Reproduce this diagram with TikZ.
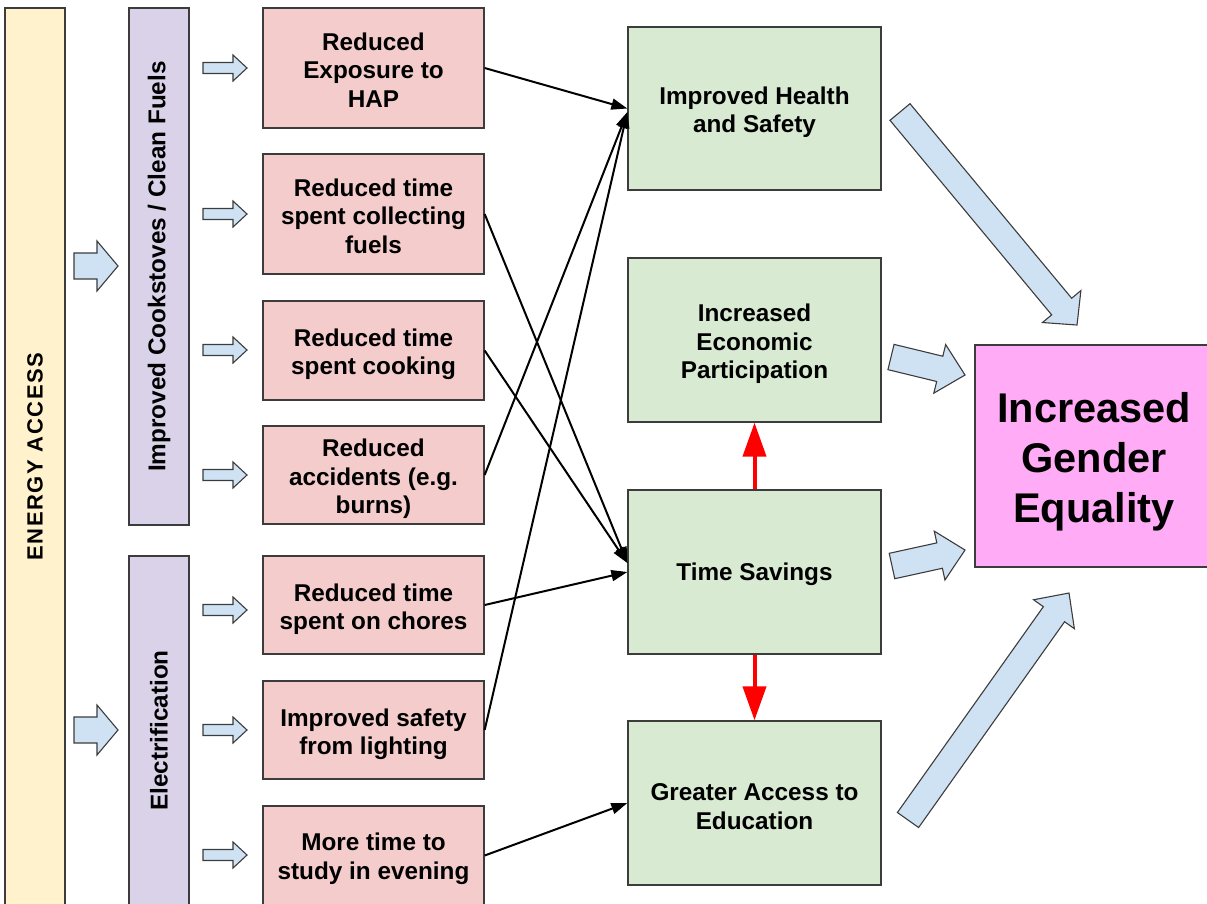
\documentclass[tikz,border=0pt]{standalone}
\usepackage{fontspec}
\setmainfont{Liberation Sans}
\usetikzlibrary{calc,arrows.meta}

\definecolor{edge}{HTML}{3C3C3C}
\definecolor{accessfill}{HTML}{FFF2CC}
\definecolor{techfill}{HTML}{D9D2E9}
\definecolor{effectfill}{HTML}{F4CCCC}
\definecolor{outcomefill}{HTML}{D9EAD3}
\definecolor{goalfill}{HTML}{FFABF6}
\definecolor{flowfill}{HTML}{CFE2F3}

% invisible strut that sets the height of a node's first line
\newcommand{\topline}[1]{\rule{0pt}{#1}}

% Block arrow from #1 to tip #2: half shaft width #3, half head width #4, head length #5
\newcommand{\fatarrow}[5]{%
  \path ($(#2)!#5!(#1)$) coordinate (fa-base);
  \draw[flow] ($(#1)!#3!90:(#2)$) -- ($(fa-base)!#3!90:(#2)$)
    -- ($(fa-base)!#4!90:(#2)$) -- (#2) -- ($(fa-base)!#4!-90:(#2)$)
    -- ($(fa-base)!#3!-90:(#2)$) -- ($(#1)!#3!-90:(#2)$) -- cycle;
}

\begin{document}
\begin{tikzpicture}[x=1pt,y=-1pt,
  box/.style={draw=edge, line width=1.3pt, inner sep=0pt, align=center,
    font=\bfseries\fontsize{24.3}{28.5}\selectfont},
  access/.style={box, fill=accessfill, rotate=90, minimum height=60pt,
    font=\bfseries\fontsize{22}{26}\selectfont\addfontfeature{LetterSpace=7}},
  tech/.style={box, fill=techfill, rotate=90, minimum height=60pt},
  effect/.style={box, fill=effectfill, minimum width=221pt},
  outcome/.style={box, fill=outcomefill, minimum width=253pt, minimum height=164pt},
  goal/.style={box, fill=goalfill, font=\bfseries\fontsize{41.5}{50}\selectfont},
  flow/.style={draw=edge, line width=1.1pt, fill=flowfill, line join=miter},
  link/.style={draw=black, line width=2pt, -{Triangle[length=16pt,width=11pt]}},
  feedback/.style={draw=red, line width=4pt, -{Triangle[length=34pt,width=23pt]}}
]
\path[use as bounding box, clip] (0,0) rectangle (1207,903);

% left-hand columns
\node[access, minimum width=897pt] (access) at (35,456.5) {ENERGY ACCESS};
\node[tech, minimum width=517pt] (cook) at (159,266.5) {Improved Cookstoves / Clean Fuels};
\node[tech, minimum width=349pt] (elec) at (159,730.5) {Electrification};

% direct effects
\node[effect, minimum height=120pt] (r1) at (373.5,68) {\topline{21pt}Reduced\\Exposure to\\HAP};
\node[effect, minimum height=120pt] (r2) at (373.5,214) {\topline{22pt}Reduced time\\spent collecting\\fuels};
\node[effect, minimum height=99pt] (r3) at (373.5,350.5) {\topline{25pt}Reduced time\\spent cooking};
\node[effect, minimum height=98pt] (r4) at (373.5,475) {\topline{25.5pt}Reduced\\accidents (e.g.\\burns)};
\node[effect, minimum height=98pt] (r5) at (373.5,605) {\topline{26pt}Reduced time\\spent on chores};
\node[effect, minimum height=98pt] (r6) at (373.5,730) {\topline{26pt}Improved safety\\from lighting};
\node[effect, minimum height=99pt] (r7) at (373.5,855.5) {\topline{24pt}More time to\\study in evening};

% outcomes
\node[outcome, minimum height=163pt] (health) at (754.5,108.5) {\topline{25.5pt}Improved Health\\and Safety};
\node[outcome] (econ) at (754.5,340) {\topline{25.5pt}Increased\\Economic\\Participation};
\node[outcome] (time) at (754.5,572) {\topline{22pt}Time Savings};
\node[outcome] (edu) at (754.5,803) {\topline{24pt}Greater Access to\\Education};

% final goal
\node[goal, minimum width=238pt, minimum height=222pt] (goal) at (1094,456) {\topline{42pt}Increased\\Gender\\Equality};

% block arrows into the technology columns
\coordinate (a1) at (74,266);  \coordinate (a1t) at (118,266);
\coordinate (a2) at (74,730);  \coordinate (a2t) at (118,730);
\fatarrow{a1}{a1t}{13pt}{25pt}{21pt}
\fatarrow{a2}{a2t}{13pt}{25pt}{21pt}

% small block arrows into the effect boxes
\foreach \y [count=\i] in {68,214,350,475,610,730,855}{
  \coordinate (s\i) at (203,\y);
  \coordinate (s\i t) at (247,\y);
  \fatarrow{s\i}{s\i t}{5.5pt}{13pt}{14pt}
}

% block arrows into the goal
\coordinate (b1) at (900,112);  \coordinate (b1t) at (1077,325);
\coordinate (b2) at (891,357);  \coordinate (b2t) at (965,375);
\coordinate (b3) at (892,566);  \coordinate (b3t) at (965,550);
\coordinate (b4) at (908,820);  \coordinate (b4t) at (1069,593);
\fatarrow{b1}{b1t}{13pt}{25pt}{24pt}
\fatarrow{b2}{b2t}{13pt}{25pt}{26pt}
\fatarrow{b3}{b3t}{13pt}{25pt}{26pt}
\fatarrow{b4}{b4t}{13pt}{25pt}{26pt}

% effect-to-outcome links
\draw[link] (r1.east) -- (health.west);
\draw[link] (r2.east) -- ([yshift=9pt]time.west);
\draw[link] (r3.east) -- ([yshift=9pt]time.west);
\draw[link] (r4.east) -- ([yshift=-3.5pt]health.west);
\draw[link] (r5.east) -- (time.west);
\draw[link] (r6.east) -- ([yshift=-3.5pt]health.west);
\draw[link] (r7.east) -- (edu.west);

% time savings feed the other outcomes
\draw[feedback] (time.north) -- (econ.south);
\draw[feedback] (time.south) -- (edu.north);
\end{tikzpicture}
\end{document}
